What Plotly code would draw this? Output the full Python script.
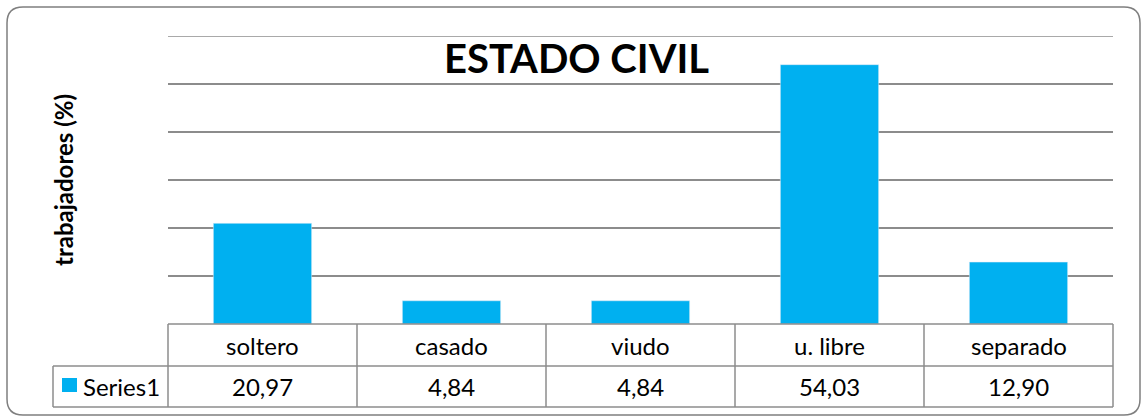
import plotly.graph_objects as go

categories = ["soltero", "casado", "viudo", "u. libre", "separado"]
values = [20.97, 4.84, 4.84, 54.03, 12.90]
value_labels = ["20,97", "4,84", "4,84", "54,03", "12,90"]
series_name = "Series1"
title_text = "ESTADO CIVIL"
ytitle = "trabajadores (%)"
y_max = 60

W, H = 1141, 416
L, R, T, B = 168, 1113, 36, 324  # plot area in px
PW, PH = R - L, B - T
BAR = "#00B0F0"
GRID = "#8c8c8c"
FONT = "Lato"

def px(x):
    return (x - L) / PW

def py(y):
    return (B - y) / PH

fig = go.Figure(go.Bar(x=categories, y=values, marker_color=BAR, width=0.52,
                       showlegend=False, hoverinfo="skip"))

shapes = []
annotations = []

# Rounded outer border
x0, x1, y0, y1, r = 7, 1140, 7, 415, 16
path = (f"M {px(x0+r)},{py(y0)} L {px(x1-r)},{py(y0)} "
        f"Q {px(x1)},{py(y0)} {px(x1)},{py(y0+r)} "
        f"L {px(x1)},{py(y1-r)} Q {px(x1)},{py(y1)} {px(x1-r)},{py(y1)} "
        f"L {px(x0+r)},{py(y1)} Q {px(x0)},{py(y1)} {px(x0)},{py(y1-r)} "
        f"L {px(x0)},{py(y0+r)} Q {px(x0)},{py(y0)} {px(x0+r)},{py(y0)} Z")
shapes.append(dict(type="path", xref="paper", yref="paper", path=path,
                   line=dict(color="#7f7f7f", width=1.5), layer="below"))

# top gridline (at axis maximum)
shapes.append(dict(type="line", xref="paper", yref="y", x0=0, x1=1, y0=y_max, y1=y_max,
                   line=dict(color=GRID, width=1.5), layer="below"))

# Data table
r1, r2, r3 = B, 366, 407
lx = 53
line = dict(color=GRID, width=1.5)
shapes.append(dict(type="line", xref="paper", yref="paper", x0=px(L), x1=px(R), y0=py(r1), y1=py(r1), line=line))
shapes.append(dict(type="line", xref="paper", yref="paper", x0=px(lx), x1=px(R), y0=py(r2), y1=py(r2), line=line))
shapes.append(dict(type="line", xref="paper", yref="paper", x0=px(lx), x1=px(R), y0=py(r3), y1=py(r3), line=line))
shapes.append(dict(type="line", xref="paper", yref="paper", x0=px(lx), x1=px(lx), y0=py(r2), y1=py(r3), line=line))
n = len(categories)
for i in range(n + 1):
    xx = L + PW * i / n
    shapes.append(dict(type="line", xref="paper", yref="paper", x0=px(xx), x1=px(xx), y0=py(r1), y1=py(r3), line=line))

TF = dict(family=FONT, size=24, color="#000000")
for c, v in zip(categories, value_labels):
    annotations.append(dict(x=c, xref="x", y=py((r1 + r2) / 2), yref="paper", text=c, showarrow=False,
                            font=TF, yanchor="middle"))
    annotations.append(dict(x=c, xref="x", y=py((r2 + r3) / 2), yref="paper", text=v, showarrow=False,
                            font=TF, yanchor="middle"))

# legend key
shapes.append(dict(type="rect", xref="paper", yref="paper", x0=px(62), x1=px(77), y0=py(378), y1=py(392),
                   fillcolor=BAR, line=dict(width=0)))
annotations.append(dict(x=px(81), xref="paper", y=py((r2 + r3) / 2), yref="paper", text=series_name,
                        showarrow=False, xanchor="left", yanchor="middle", font=TF))

# title
annotations.append(dict(x=px(576), xref="paper", y=py(58), yref="paper", text=f"<b>{title_text}</b>",
                        showarrow=False, xanchor="center", yanchor="middle",
                        font=dict(family=FONT, size=40, color="#000000")))
# y title
annotations.append(dict(x=px(63), xref="paper", y=py(180), yref="paper", text=f"<b>{ytitle}</b>",
                        showarrow=False, textangle=-90, xanchor="center", yanchor="middle",
                        font=dict(family=FONT, size=24, color="#000000")))

fig.update_layout(
    width=W, height=H,
    margin=dict(l=L, r=W - R, t=T, b=H - B),
    paper_bgcolor="white", plot_bgcolor="white",
    shapes=shapes, annotations=annotations,
    xaxis=dict(showticklabels=False, showgrid=False, zeroline=False, showline=False, ticks=""),
    yaxis=dict(range=[0, y_max], dtick=10, showticklabels=False, showgrid=True, gridcolor=GRID,
               gridwidth=1.5, zeroline=False, showline=False, ticks=""),
)

fig.write_html("out.html", config={"displayModeBar": False},
               post_script="document.body.style.margin='0';document.body.style.overflow='hidden';")
